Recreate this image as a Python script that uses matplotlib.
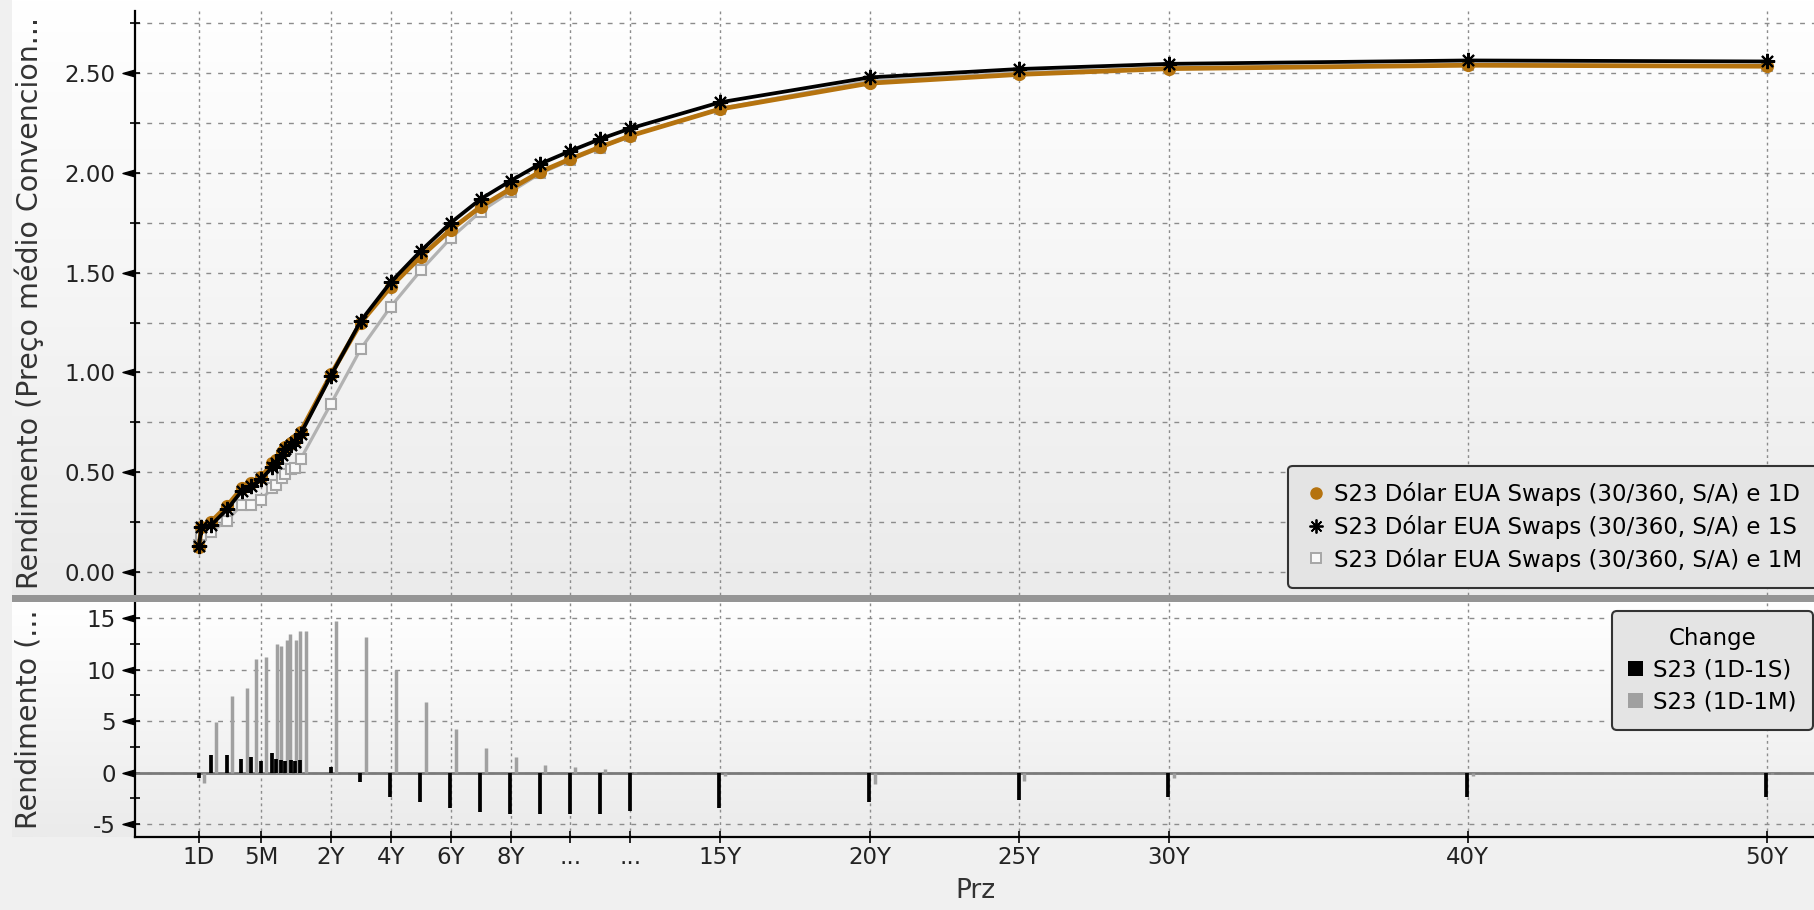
import numpy as np
import matplotlib
matplotlib.use("Agg")
import matplotlib.pyplot as plt
from matplotlib.colors import LinearSegmentedColormap
from matplotlib.lines import Line2D
from matplotlib.patches import Patch, Rectangle
from matplotlib.transforms import offset_copy

plt.rcParams['font.family'] = ['DejaVu Sans']

# tenor of each curve point, in years
tenors = [1/365, 7/365, 1/12, 0.19, 0.288, 0.35, 5/12, 0.672, 0.756, 0.883, 0.966,
          1.102, 1.186, 1.313, 2, 3, 4, 5, 6, 7, 8, 9, 10, 11, 12, 15, 20, 25, 30, 40, 50]
yld_1d = [0.125, 0.226, 0.251, 0.330, 0.419, 0.444, 0.474, 0.544, 0.560, 0.600, 0.627,
          0.646, 0.660, 0.703, 0.990, 1.250, 1.430, 1.580, 1.715, 1.830, 1.920, 2.006,
          2.070, 2.130, 2.186, 2.320, 2.450, 2.494, 2.523, 2.540, 2.535]
yld_1s = [0.130, 0.226, 0.234, 0.313, 0.405, 0.429, 0.463, 0.525, 0.546, 0.588, 0.616,
          0.634, 0.649, 0.691, 0.984, 1.259, 1.453, 1.609, 1.750, 1.869, 1.960, 2.046,
          2.110, 2.170, 2.223, 2.354, 2.479, 2.521, 2.547, 2.564, 2.559]
yld_1m = [0.135, 0.185, 0.202, 0.256, 0.337, 0.334, 0.362, 0.419, 0.437, 0.471, 0.492,
          0.517, 0.522, 0.565, 0.843, 1.119, 1.330, 1.511, 1.673, 1.806, 1.905, 1.998,
          2.064, 2.126, 2.186, 2.323, 2.461, 2.502, 2.528, 2.543, 2.536]
# changes in bp
chg_1s = [-0.5, np.nan, 1.75, 1.75, 1.36, 1.52, 1.13, 1.88, 1.36, 1.2, 1.13,
          1.2, 1.13, 1.2, 0.58, -0.87, -2.34, -2.88, -3.46, -3.85, -4.0, -4.04,
          -4.04, -4.04, -3.69, -3.4, -2.9, -2.7, -2.4, -2.4, -2.4]
chg_1m = [-1.0, np.nan, 4.95, 7.44, 8.25, 11.0, 11.23, 12.52, 12.3, 12.88, 13.46,
          12.88, 13.79, 13.79, 14.72, 13.14, 10.0, 6.86, 4.23, 2.40, 1.5, 0.77,
          0.58, 0.38, 0.05, -0.3, -1.1, -0.8, -0.5, -0.3, -0.1]

tick_tenors = [1/365, 5/12, 2, 4, 6, 8, 10, 12, 15, 20, 25, 30, 40, 50]
tick_labels = ['1D', '5M', '2Y', '4Y', '6Y', '8Y', '...', '...', '15Y', '20Y', '25Y', '30Y', '40Y', '50Y']
series_names = ['S23 Dólar EUA Swaps (30/360, S/A) e 1D',
                'S23 Dólar EUA Swaps (30/360, S/A) e 1S',
                'S23 Dólar EUA Swaps (30/360, S/A) e 1M']
change_names = ['S23 (1D-1S)', 'S23 (1D-1M)']

W, H = 1815, 910
fig = plt.figure(figsize=(W / 100, H / 100), dpi=100, facecolor='#f0f0f0')

# tenor axis: stretched short end, linear in years from 2Y on
knot_yr = np.array([-10, 1/365, 5/12, 2, 50, 200])
knot_u = np.array([-1498.4, 0, 62, 132, 1568, 6055.5])

def fwd(x):
    return np.interp(x, knot_yr, knot_u)

def inv(u):
    return np.interp(u, knot_u, knot_yr)

grad = LinearSegmentedColormap.from_list('g', ['#ffffff', '#ebebeb'])

def background(y0, y1):
    b = fig.add_axes([12 / W, 1 - y1 / H, 1 - 12 / W, (y1 - y0) / H], zorder=-5)
    b.imshow(np.linspace(0, 1, 200).reshape(-1, 1), cmap=grad, aspect='auto', extent=[0, 1, 0, 1])
    b.axis('off')

background(0, 595)
background(602, 837)
fig.add_artist(Rectangle((12 / W, 1 - 602 / H), 1 - 12 / W, 7 / H, transform=fig.transFigure,
                         facecolor='#959595', edgecolor='none'))

ax1 = fig.add_axes([135 / W, 1 - 595 / H, 1680 / W, 584 / H], facecolor='none')
ax2 = fig.add_axes([135 / W, 1 - 836.7 / H, 1680 / W, 234.7 / H], facecolor='none', sharex=ax1)
for a in (ax1, ax2):
    a.set_xscale('function', functions=(fwd, inv))
ax1.set_xlim(inv(-64), inv(1616))

orange = '#b5730f'
ax1.plot(tenors, yld_1m, color='#b2b2b2', lw=2.3, marker='s', ms=7.5, mfc='#f8f8f8',
         mec='#a6a6a6', mew=1.5, zorder=3)
ax1.plot(tenors, yld_1d, color=orange, lw=3.4, marker='o', ms=8.5, mec=orange, zorder=4)
ax1.plot(tenors, yld_1s, color='black', lw=2.7, marker=(8, 2, 0), ms=11, mew=1.5, zorder=5)

# change bars, grouped side by side
tr_k = offset_copy(ax2.transData, fig=fig, x=-0.5, y=0, units='dots')
tr_g = offset_copy(ax2.transData, fig=fig, x=5, y=0, units='dots')
ax2.vlines(tenors, 0, chg_1s, colors='black', lw=2.7, transform=tr_k, capstyle='butt', zorder=4)
ax2.vlines(tenors, 0, chg_1m, colors='#a0a0a0', lw=2.5, transform=tr_g, capstyle='butt', zorder=3)
ax2.axhline(0, color='#7a7a7a', lw=2, zorder=2)

tick_color = '#222222'
tri = [(0, 0.28), (-1, 0), (0, -0.28)]

# upper axis
y1_major = np.arange(0, 2.51, 0.5)
ax1.set_ylim(-0.1163, 2.812)
ax1.set_yticks(y1_major)
ax1.set_yticklabels([f'{v:.2f}' for v in y1_major])
ax1.set_yticks(np.arange(0.25, 2.8, 0.5), minor=True)
ax1.plot(np.zeros(len(y1_major)), y1_major, ls='none', marker=tri, ms=18, color='black',
         transform=ax1.get_yaxis_transform(), clip_on=False, zorder=10)

# lower axis
y2_major = [-5, 0, 5, 10, 15]
ax2.set_ylim(-6.23, 16.58)
ax2.set_yticks(y2_major)
ax2.set_yticklabels([str(v) for v in y2_major])
ax2.set_yticks([-2.5, 2.5, 7.5, 12.5], minor=True)
ax2.plot(np.zeros(len(y2_major)), y2_major, ls='none', marker=tri, ms=18, color='black',
         transform=ax2.get_yaxis_transform(), clip_on=False, zorder=10)

ax2.set_xticks(tick_tenors)
ax2.set_xticklabels(tick_labels)
ax2.xaxis.set_minor_locator(matplotlib.ticker.NullLocator())

for a in (ax1, ax2):
    a.spines[['top', 'right']].set_visible(False)
    a.spines['left'].set_linewidth(1.6)
    a.tick_params(axis='y', which='both', direction='inout', length=7, width=1.2,
                  labelsize=16.5, labelcolor=tick_color, pad=10.5)
    a.grid(axis='x', which='major', color='#8c8c8c', lw=1, ls=(0, (2, 2.5)))
ax1.spines['bottom'].set_visible(False)
ax1.tick_params(axis='x', which='both', length=0, labelbottom=False)
ax1.grid(axis='y', which='both', color='#8c8c8c', lw=1, ls=(0, (3.5, 5)))
ax2.grid(axis='y', which='major', color='#8c8c8c', lw=1, ls=(0, (3.5, 5)))
ax2.spines['bottom'].set_linewidth(1.6)
ax2.tick_params(axis='x', direction='inout', length=8, width=1.2, labelsize=16.5,
                labelcolor=tick_color, pad=3)
ax2.set_xlabel('Prz', fontsize=19, color='#333333', labelpad=6)

fig.text(29 / W, 1 - 303 / H, 'Rendimento (Preço médio Convencion...', rotation=90,
         ha='center', va='center', fontsize=20.5, color='#333333')
fig.text(29 / W, 1 - 719 / H, 'Rendimento (...', rotation=90,
         ha='center', va='center', fontsize=20.5, color='#333333')

h1 = [Line2D([], [], ls='none', marker='o', ms=8, color=orange),
      Line2D([], [], ls='none', marker=(8, 2, 0), ms=10, mew=1.3, color='black'),
      Line2D([], [], ls='none', marker='s', ms=7, mfc='#f8f8f8', mec='#a6a6a6', mew=1.4)]
leg1 = ax1.legend(h1, series_names, loc='lower left', bbox_to_anchor=(1288 / W, 1 - 588 / H),
                  bbox_transform=fig.transFigure, borderaxespad=0, fontsize=16.5,
                  facecolor='#e4e4e4', edgecolor='#333333', framealpha=1, fancybox=True,
                  handlelength=1.0, handletextpad=0.3, labelspacing=0.38, borderpad=0.72)
leg1.get_frame().set_linewidth(1.5)
leg1.set_zorder(20)

h2 = [Patch(facecolor='black'), Patch(facecolor='#a0a0a0')]
leg2 = ax2.legend(h2, change_names, title='Change', loc='upper left',
                  bbox_to_anchor=(1612 / W, 1 - 611 / H), bbox_transform=fig.transFigure,
                  borderaxespad=0, fontsize=16.5, title_fontsize=16.5,
                  facecolor='#e4e4e4', edgecolor='#333333', framealpha=1, fancybox=True,
                  handlelength=0.65, handleheight=0.65, handletextpad=0.45,
                  labelspacing=0.38, borderpad=0.7)
leg2.get_frame().set_linewidth(1.5)
leg2.set_zorder(20)

fig.savefig('out.png', dpi=100, facecolor=fig.get_facecolor())
